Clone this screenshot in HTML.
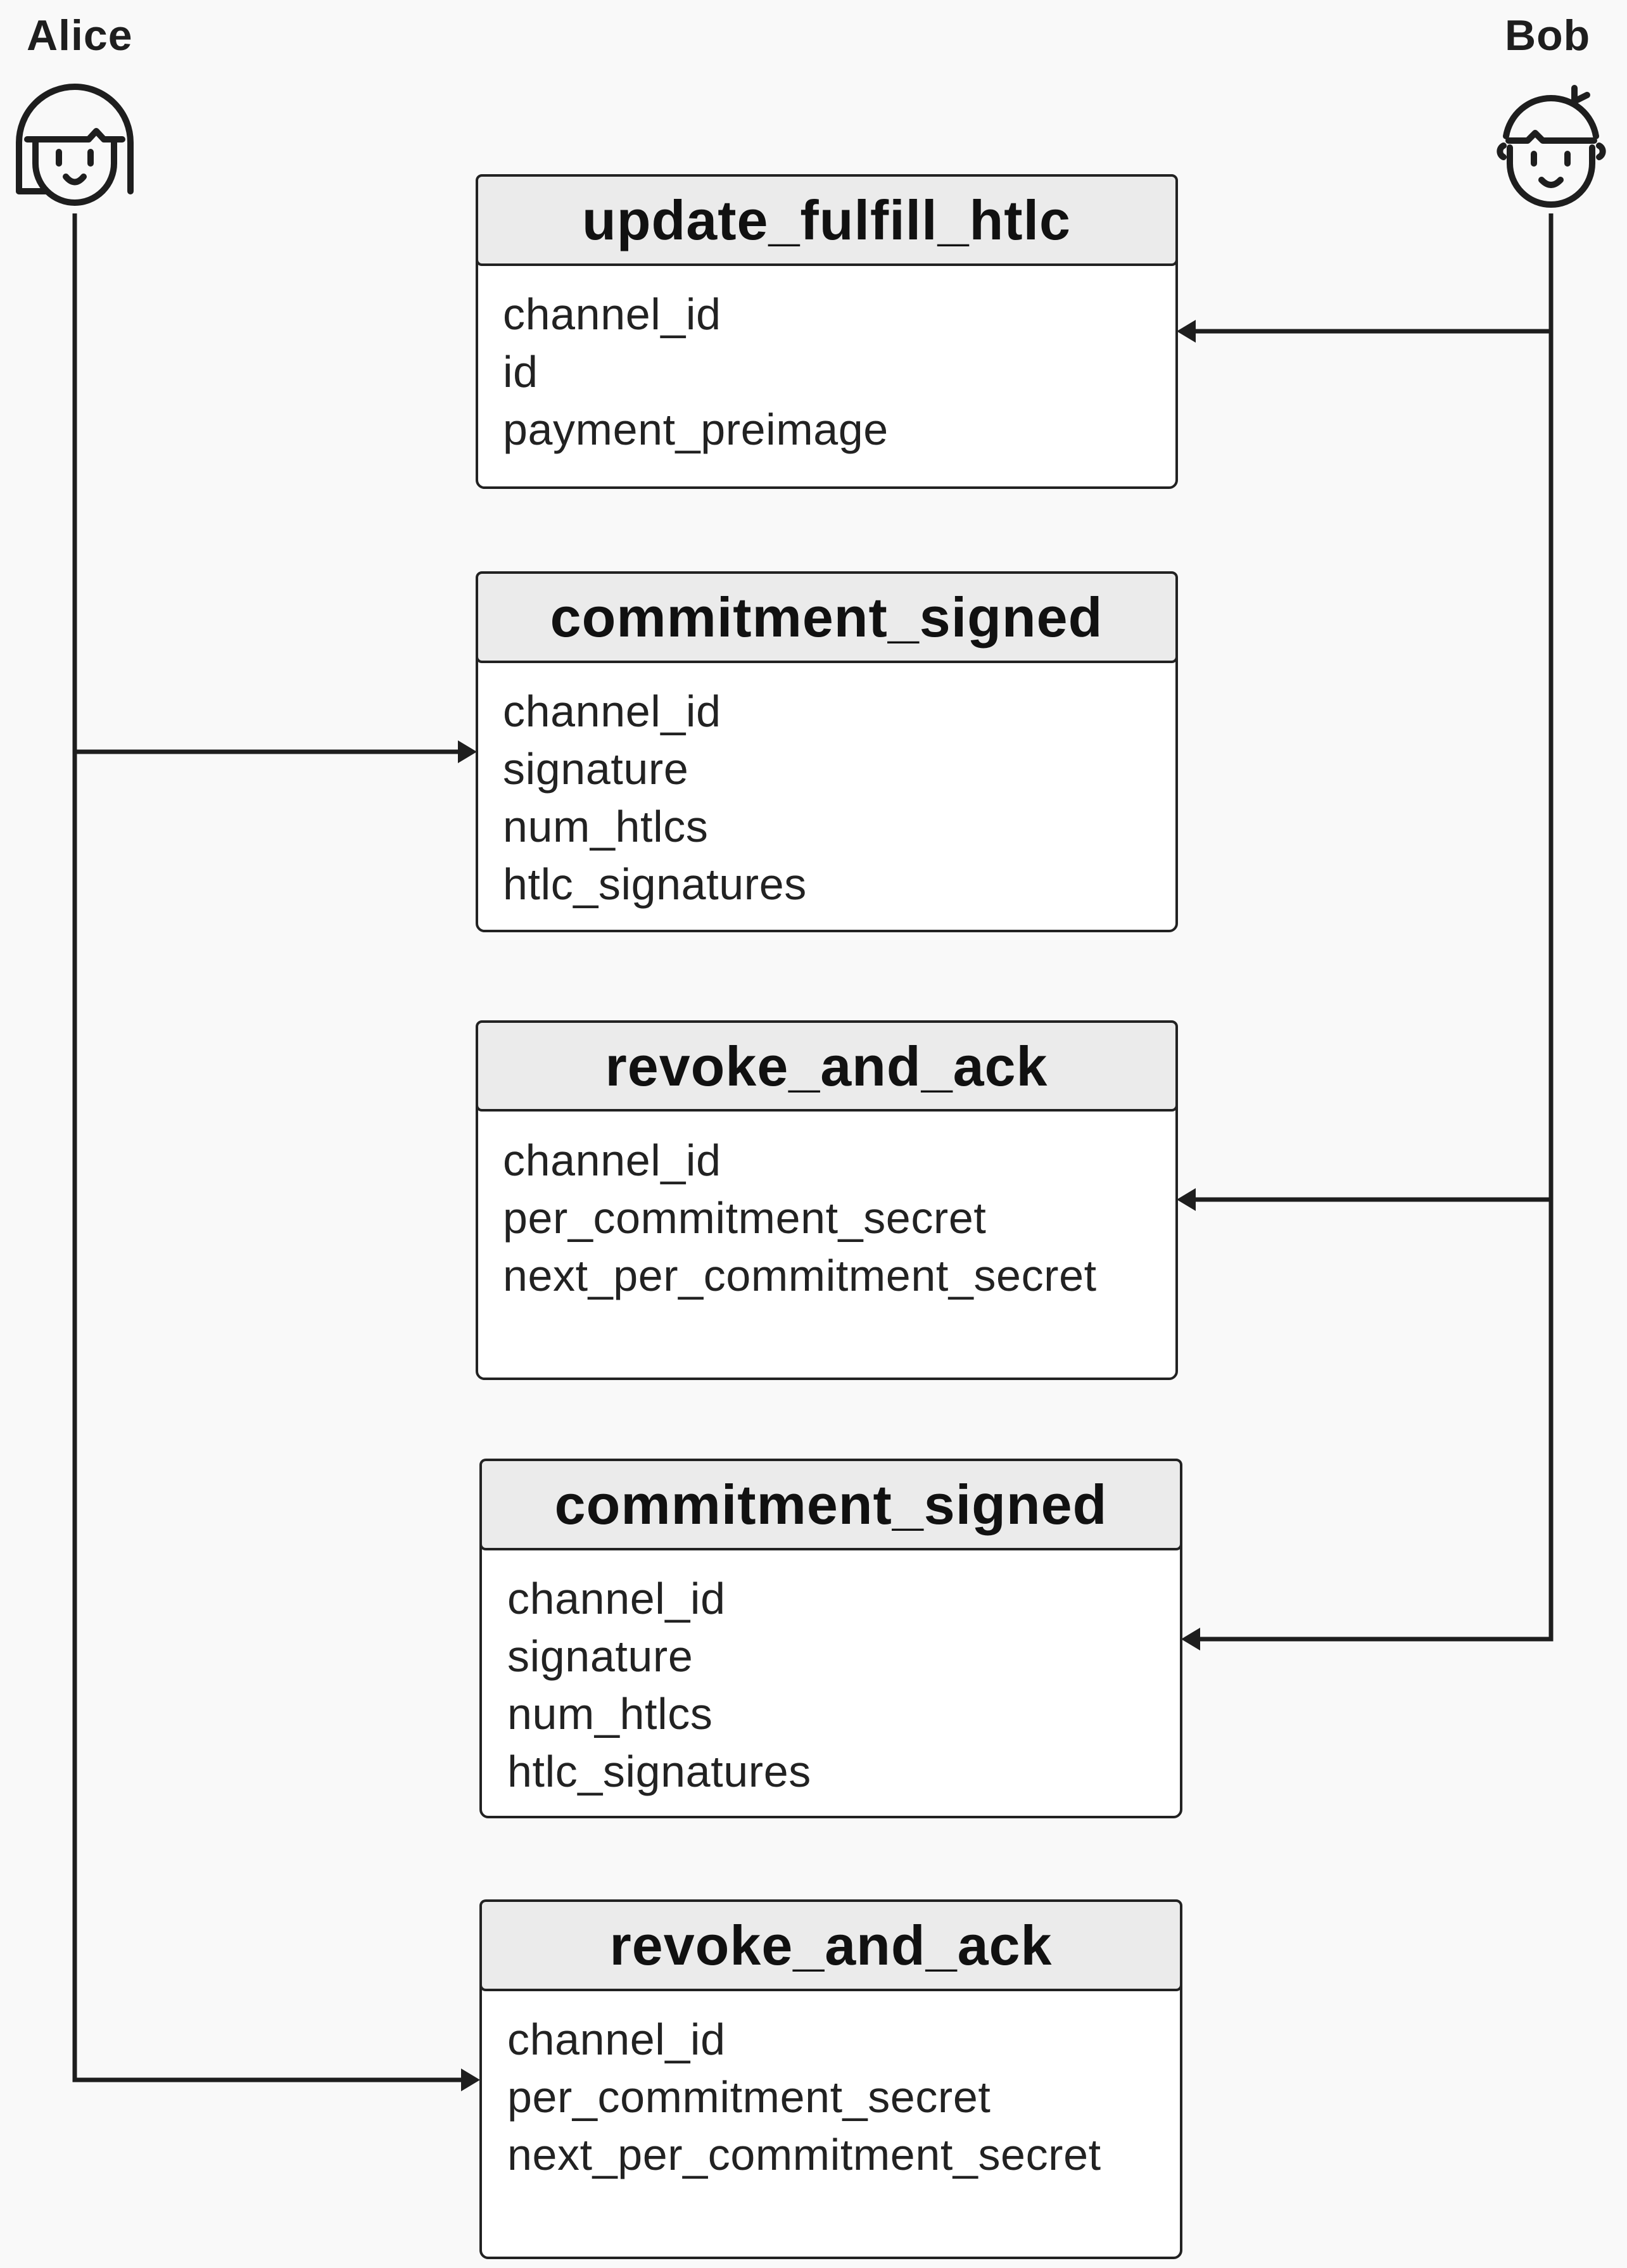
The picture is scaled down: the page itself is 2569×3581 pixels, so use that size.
<!DOCTYPE html>
<html><head><meta charset="utf-8"><style>
html,body{margin:0;padding:0;background:#f9f9f9;}
svg{display:block;}
.t{font-family:"Liberation Sans",sans-serif;font-weight:bold;font-size:88px;letter-spacing:1px;fill:#111;}
.b{font-family:"Liberation Sans",sans-serif;font-size:70px;letter-spacing:0.6px;fill:#222;}
.n{font-family:"Liberation Sans",sans-serif;font-weight:bold;font-size:68px;letter-spacing:1px;fill:#1e1e1e;}
</style></head><body>
<svg width="2569" height="3581" viewBox="0 0 2569 3581" xmlns="http://www.w3.org/2000/svg">
<rect width="2569" height="3581" fill="#f9f9f9"/>
<text class="n" x="42" y="79">Alice</text>
<text class="n" x="2376" y="79">Bob</text>
<!-- Alice icon -->
<g fill="none" stroke="#1e1e1e" stroke-width="10" stroke-linecap="round" stroke-linejoin="round">
<path d="M30 302 V225 A88 88 0 0 1 206 225 V302"/>
<path d="M30 302 H72"/>
<path d="M43 220 H140 L152 207 L164 220 H193"/>
<path d="M56 222 V258 A62 62 0 0 0 180 258 V222"/>
<path d="M93 240 V258 M143 240 V258"/>
<path d="M104 279 Q118 296 132 279"/>
</g>
<!-- Bob icon -->
<g transform="translate(-28,0)" fill="none" stroke="#1e1e1e" stroke-width="10" stroke-linecap="round" stroke-linejoin="round">
<path d="M2406 215 A72 72 0 0 1 2548 215"/>
<path d="M2410 222 H2440 L2452 210 L2464 222 H2545"/>
<path d="M2412 233 V258 A65 65 0 0 0 2542 258 V233"/>
<path d="M2402 230 A10 10 0 0 0 2402 248 M2553 230 A10 10 0 0 1 2553 248"/>
<path d="M2450 243 V258 M2503 243 V258"/>
<path d="M2462 284 Q2477 300 2492 284"/>
<path d="M2514 139 V160 L2534 150"/>
</g>
<!-- lifelines -->
<g stroke="#1e1e1e" stroke-width="7" fill="none">
<path d="M118 337 V3284 H735"/>
<path d="M118 1187 H730"/>
<path d="M2449 337 V2588 H1890"/>
<path d="M2449 523 H1885"/>
<path d="M2449 1894 H1885"/>
</g>
<g fill="#1e1e1e">
<path d="M753 1187 L723 1169 L723 1205 Z"/>
<path d="M758 3284 L728 3266 L728 3302 Z"/>
<path d="M1858 523 L1888 505 L1888 541 Z"/>
<path d="M1858 1894 L1888 1876 L1888 1912 Z"/>
<path d="M1865 2588 L1895 2570 L1895 2606 Z"/>
</g>
<!-- boxes -->
<g stroke="#222" stroke-width="4">
<rect x="753" y="277" width="1105" height="493" rx="12" fill="#fff"/>
<rect x="753" y="277" width="1105" height="141" rx="8" fill="#ebebeb"/>
<rect x="753" y="904" width="1105" height="566" rx="12" fill="#fff"/>
<rect x="753" y="904" width="1105" height="141" rx="8" fill="#ebebeb"/>
<rect x="753" y="1613" width="1105" height="564" rx="12" fill="#fff"/>
<rect x="753" y="1613" width="1105" height="140" rx="8" fill="#ebebeb"/>
<rect x="759" y="2305" width="1106" height="564" rx="12" fill="#fff"/>
<rect x="759" y="2305" width="1106" height="141" rx="8" fill="#ebebeb"/>
<rect x="759" y="3001" width="1106" height="564" rx="12" fill="#fff"/>
<rect x="759" y="3001" width="1106" height="141" rx="8" fill="#ebebeb"/>
</g>
<g text-anchor="middle">
<text class="t" x="1305" y="378">update_fulfill_htlc</text>
<text class="t" x="1305" y="1005">commitment_signed</text>
<text class="t" x="1305" y="1714">revoke_and_ack</text>
<text class="t" x="1312" y="2406">commitment_signed</text>
<text class="t" x="1312" y="3102">revoke_and_ack</text>
</g>
<text class="b" x="794" y="520">channel_id</text>
<text class="b" x="794" y="611">id</text>
<text class="b" x="794" y="702">payment_preimage</text>

<text class="b" x="794" y="1147">channel_id</text>
<text class="b" x="794" y="1238">signature</text>
<text class="b" x="794" y="1329">num_htlcs</text>
<text class="b" x="794" y="1420">htlc_signatures</text>

<text class="b" x="794" y="1856">channel_id</text>
<text class="b" x="794" y="1947">per_commitment_secret</text>
<text class="b" x="794" y="2038">next_per_commitment_secret</text>

<text class="b" x="801" y="2548">channel_id</text>
<text class="b" x="801" y="2639">signature</text>
<text class="b" x="801" y="2730">num_htlcs</text>
<text class="b" x="801" y="2821">htlc_signatures</text>

<text class="b" x="801" y="3244">channel_id</text>
<text class="b" x="801" y="3335">per_commitment_secret</text>
<text class="b" x="801" y="3426">next_per_commitment_secret</text>
</svg>
</body></html>
